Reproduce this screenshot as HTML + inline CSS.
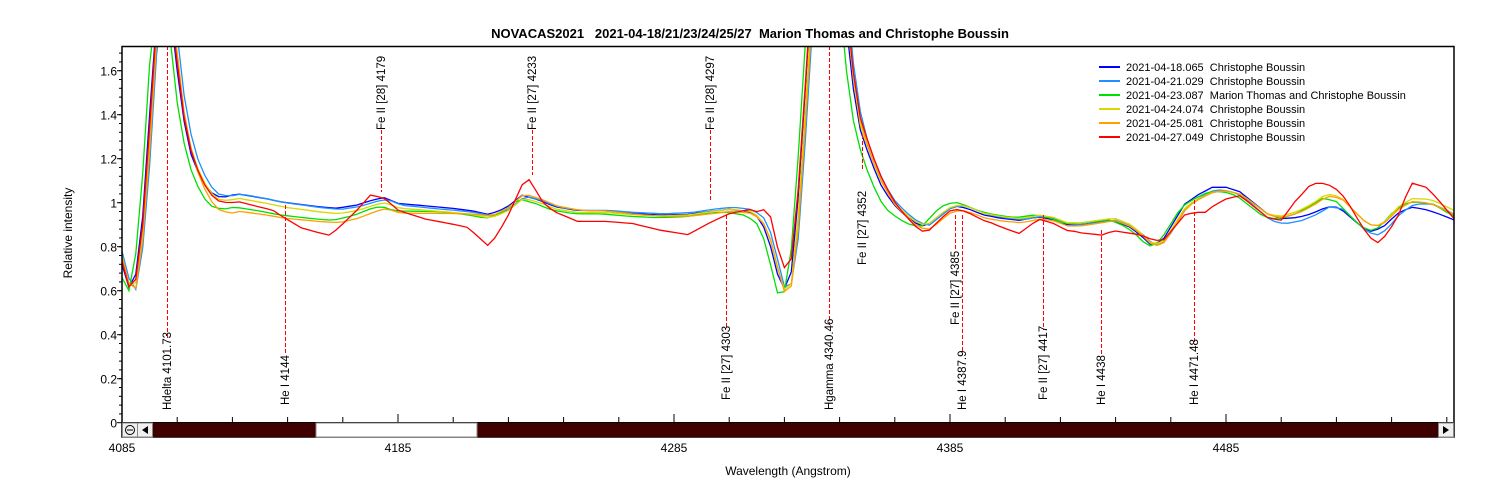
<!DOCTYPE html>
<html><head><meta charset="utf-8"><style>
html,body{margin:0;padding:0;background:#fff;width:1500px;height:500px;overflow:hidden}
svg{display:block;font-family:"Liberation Sans",Arial,sans-serif}
text{white-space:pre}
</style></head><body>
<svg id="s" width="1500" height="500" xmlns="http://www.w3.org/2000/svg" xml:space="preserve">
<text x="750" y="38" font-size="13" font-weight="bold" text-anchor="middle">NOVACAS2021   2021-04-18/21/23/24/25/27  Marion Thomas and Christophe Boussin</text>
<text transform="translate(72,233) rotate(-90)" font-size="12" text-anchor="middle">Relative intensity</text>
<text x="788" y="475" font-size="12" text-anchor="middle">Wavelength (Angstrom)</text>
<g id="ax"></g>
<g id="plot"></g>
<g id="ann"></g>
<rect x="122" y="46.5" width="1332" height="390.5" fill="none" stroke="#000" stroke-width="1.5"/>
<line x1="122" y1="422.5" x2="1454" y2="422.5" stroke="#000"/>
<rect x="152" y="423" width="1286" height="14" fill="#400000"/>
<rect x="316" y="423" width="161" height="14" fill="#fff" stroke="#888"/>
<rect x="122.5" y="423" width="15" height="14" fill="#f0f0f0" stroke="#888"/>
<rect x="137.5" y="423" width="15" height="14" fill="#f0f0f0" stroke="#888"/>
<rect x="1438.5" y="423" width="15" height="14" fill="#f0f0f0" stroke="#888"/>
<circle cx="130" cy="430" r="4.5" fill="none" stroke="#000"/><line x1="127" y1="430" x2="133" y2="430" stroke="#000"/>
<polygon points="142,430 148,426 148,434" fill="#000"/>
<polygon points="1449,430 1443,426 1443,434" fill="#000"/>
<g font-size="11">
<line x1="1099" y1="67" x2="1120" y2="67" stroke="#0000ff" stroke-width="2"/><text x="1126" y="71">2021-04-18.065  Christophe Boussin</text>
<line x1="1099" y1="81" x2="1120" y2="81" stroke="#1e90ff" stroke-width="2"/><text x="1126" y="85">2021-04-21.029  Christophe Boussin</text>
<line x1="1099" y1="95" x2="1120" y2="95" stroke="#00e000" stroke-width="2"/><text x="1126" y="99">2021-04-23.087  Marion Thomas and Christophe Boussin</text>
<line x1="1099" y1="109" x2="1120" y2="109" stroke="#d8d800" stroke-width="2"/><text x="1126" y="113">2021-04-24.074  Christophe Boussin</text>
<line x1="1099" y1="123" x2="1120" y2="123" stroke="#ffa000" stroke-width="2"/><text x="1126" y="127">2021-04-25.081  Christophe Boussin</text>
<line x1="1099" y1="137" x2="1120" y2="137" stroke="#ff0000" stroke-width="2"/><text x="1126" y="141">2021-04-27.049  Christophe Boussin</text>
</g>
</svg>
<script>
var NS="http://www.w3.org/2000/svg";
function X(w){return 122+(w-4085)*2.76}
function Y(v){return 422.7-v*220}
function el(t,a,p,txt){var e=document.createElementNS(NS,t);for(var k in a)e.setAttribute(k,a[k]);if(txt)e.textContent=txt;document.getElementById(p).appendChild(e);return e}
for(var i=0;i<=8;i++){var v=i*0.2;el('text',{x:117,y:Y(v)+5,'font-size':12,'text-anchor':'end'},'ax',i==5?'1':(i==0?'0':v.toFixed(1)));el('line',{x1:117,x2:122,y1:Y(v),y2:Y(v),stroke:'#000'},'ax');}
for(var v=0.04;v<1.7;v+=0.04){el('line',{x1:119,x2:122,y1:Y(v),y2:Y(v),stroke:'#000'},'ax');}
for(var w=4085;w<=4565;w+=20){var xx=X(w);el('line',{x1:xx,x2:xx,y1:422,y2:(w-4085)%100==0?414:417,stroke:'#000'},'ax');}
[4085,4185,4285,4385,4485].forEach(function(w){el('text',{x:X(w),y:452,'font-size':12,'text-anchor':'middle'},'ax',''+w)});
var B=[[4085,0.72],[4087,0.62],[4089,0.6],[4091,0.75],[4093,1.0],[4095,1.4],[4097,1.8],[4100,2.0],[4103,1.85],[4105,1.6],[4107,1.4],[4110,1.22],[4113,1.12],[4116,1.05],[4119,1.01],[4123,1.0],[4127,1.01],[4132,1.0],[4137,0.99],[4143,0.975],[4150,0.965],[4157,0.955],[4163,0.95],[4170,0.965],[4176,0.99],[4180,1.0],[4185,0.975],[4195,0.965],[4205,0.955],[4212,0.945],[4218,0.93],[4224,0.96],[4230,1.02],[4236,1.0],[4242,0.97],[4250,0.955],[4260,0.955],[4270,0.945],[4280,0.94],[4290,0.945],[4298,0.96],[4305,0.97],[4312,0.96],[4316,0.93],[4319,0.85],[4322,0.7],[4324,0.6],[4327,0.63],[4329,0.85],[4331,1.2],[4333,1.6],[4335,2.0],[4346,2.0],[4349,1.6],[4352,1.35],[4356,1.2],[4360,1.08],[4364,1.0],[4368,0.95],[4372,0.91],[4376,0.89],[4380,0.93],[4384,0.97],[4388,0.985],[4392,0.97],[4397,0.945],[4403,0.93],[4410,0.92],[4417,0.935],[4422,0.925],[4427,0.9],[4432,0.9],[4438,0.91],[4444,0.92],[4450,0.89],[4454,0.85],[4458,0.8],[4462,0.82],[4466,0.9],[4470,0.98],[4475,1.02],[4480,1.05],[4485,1.05],[4490,1.03],[4495,0.98],[4500,0.93],[4505,0.92],[4511,0.94],[4516,0.97],[4521,1.01],[4526,1.0],[4530,0.95],[4534,0.9],[4538,0.87],[4542,0.89],[4547,0.95],[4552,0.98],[4557,0.97],[4562,0.95],[4568,0.92]];
function interp(arr,w){for(var i=1;i<arr.length;i++)if(w<=arr[i][0]){var a=arr[i-1],b=arr[i];return a[1]+(b[1]-a[1])*(w-a[0])/(b[0]-a[0])}return arr[arr.length-1][1]}
var S=[
 {c:'#0000ff',sh:0,off:[[4085,0],[4110,0],[4125,0.03],[4200,0.02],[4300,0],[4450,0],[4480,0.02],[4500,0.02],[4520,-0.03],[4540,0],[4568,0]]},
 {c:'#1e90ff',sh:1.2,off:[[4085,0],[4110,0.02],[4125,0.03],[4200,0.01],[4300,0.01],[4450,0],[4480,0.01],[4520,-0.03],[4540,-0.02],[4560,0.03],[4568,0.02]]},
 {c:'#00e000',sh:-1.2,off:[[4085,0],[4110,-0.03],[4125,-0.03],[4160,-0.03],[4200,0],[4300,-0.01],[4360,-0.05],[4380,0.02],[4450,0.0],[4480,0.0],[4520,0.01],[4540,0.0],[4560,0.04],[4568,0.02]]},
 {c:'#d8d800',sh:0.5,off:[[4085,0],[4110,0],[4125,0.01],[4165,0],[4200,0],[4300,0],[4450,0.01],[4480,0.0],[4520,0.03],[4540,0.02],[4560,0.05],[4568,0.04]]},
 {c:'#ffa000',sh:0.8,off:[[4085,0],[4110,-0.02],[4125,-0.05],[4165,-0.04],[4200,-0.01],[4230,0.02],[4300,-0.01],[4360,0],[4380,-0.02],[4450,0.0],[4480,0.0],[4520,0.02],[4540,0.02],[4560,0.03],[4568,0.02]]},
 {c:'#ff0000',sh:0.3,off:[[4085,0],[4110,0],[4122,0],[4140,-0.02],[4150,-0.08],[4160,-0.1],[4170,0.0],[4175,0.05],[4185,-0.01],[4195,-0.04],[4210,-0.06],[4218,-0.13],[4224,-0.04],[4232,0.1],[4238,0.0],[4250,-0.04],[4270,-0.04],[4290,-0.09],[4298,-0.05],[4305,-0.02],[4315,0.02],[4320,0.12],[4324,0.1],[4360,0.03],[4376,-0.03],[4385,-0.01],[4400,-0.03],[4410,-0.06],[4417,-0.01],[4430,-0.03],[4440,-0.06],[4450,-0.03],[4458,0.03],[4470,-0.03],[4478,-0.08],[4490,0.0],[4505,0.0],[4510,0.07],[4516,0.12],[4521,0.08],[4530,0.03],[4540,-0.06],[4547,-0.02],[4552,0.11],[4558,0.1],[4568,0.0]]}
];
var clip=el('clipPath',{id:'cp'},'plot');el('rect',{x:122,y:47,width:1332,height:375},'cp');
var g=el('g',{'clip-path':'url(#cp)'},'plot');
S.forEach(function(s){var pts=[];for(var w=4085;w<=4568;w+=2.5){var v=interp(B,w-s.sh)+interp(s.off,w);pts.push(X(w).toFixed(1)+','+Y(v).toFixed(1))}
 var p=document.createElementNS(NS,'polyline');p.setAttribute('points',pts.join(' '));p.setAttribute('fill','none');p.setAttribute('stroke',s.c);p.setAttribute('stroke-width','1.3');g.appendChild(p);});
var A=[[167,46,340,410,'Hdelta 4101.73'],[285,205,355,405,'He I 4144'],[381,130,192,130,'Fe II [28] 4179'],[532,130,175,130,'Fe II [27] 4233'],[710,130,200,130,'Fe II [28] 4297'],[726,215,328,400,'Fe II [27] 4303'],[829,46,325,410,'Hgamma 4340.46'],[862,135,170,265,'Fe II [27] 4352'],[955,215,250,325,'Fe II [27] 4385'],[962,215,355,410,'He I 4387.9'],[1043,215,330,400,'Fe II [27] 4417'],[1101,230,355,405,'He I 4438'],[1194,200,345,405,'He I 4471.48']];
A.forEach(function(a){el('line',{x1:a[0]+0.5,x2:a[0]+0.5,y1:a[1],y2:a[2],stroke:'#ff0000','stroke-width':1,'stroke-dasharray':'4,2'},'ann');
 el('text',{transform:'translate('+(a[0]+4)+','+a[3]+') rotate(-90)','font-size':11.5},'ann',a[4]);});
</script>
</body></html>
